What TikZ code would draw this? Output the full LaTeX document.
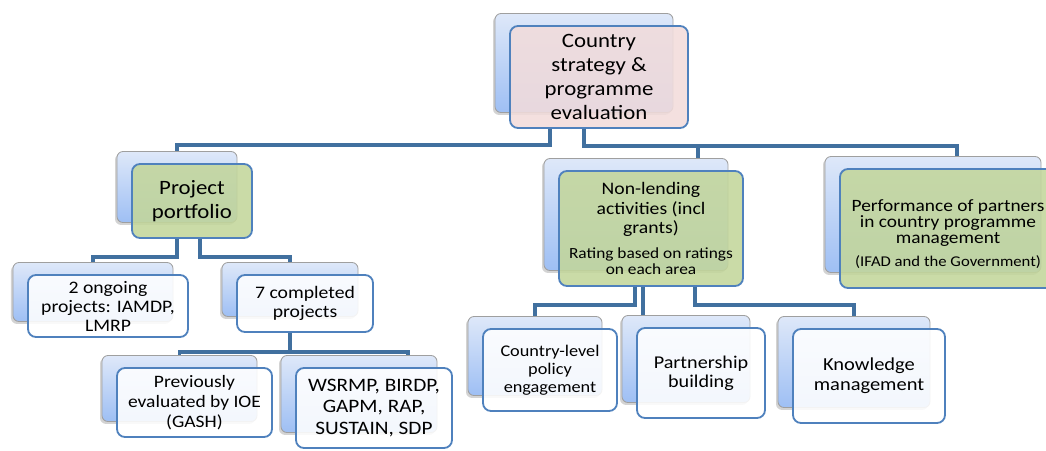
\documentclass[tikz,border=0pt]{standalone}
\usepackage{fontspec}
\setmainfont{Carlito}[FakeStretch=1.12]
\usetikzlibrary{calc,shadows}
\definecolor{backtop}{HTML}{DEE8F9}
\definecolor{backbot}{HTML}{9EBFF4}
\definecolor{frameblue}{HTML}{4F81BD}
\definecolor{linkblue}{HTML}{41709F}
\definecolor{pinkfill}{HTML}{F2DCDB}
\definecolor{greenfill}{HTML}{C3D69B}
\newcommand \myfs[2]{\fontsize{#1}{#2}\selectfont}
\newcommand \mybox[7]
{
\node[backbox, minimum width=#4*0.025cm, minimum height=(#5-3)*0.025cm] (#1B) at (#2-15,#3-14) {};
\node[frontbox, #6, minimum width=#4*0.025cm, minimum height=#5*0.025cm] (#1) at (#2,#3) {#7};
}

\begin{document}
\begin{tikzpicture}[x=0.025cm, y=-0.025cm,
  backbox/.style={draw=gray!75, line width=0.6pt, rounded corners=0.15cm, top color=backtop, bottom color=backbot,
    drop shadow={shadow xshift=-0.5mm, shadow yshift=-0.6mm, opacity=0.35}},
  frontbox/.style={draw=frameblue, line width=1.3pt, rounded corners=0.2cm, fill=white, fill opacity=0.88,
    text opacity=1, align=center, inner sep=0pt},
  conn/.style={draw=linkblue, line width=2.5pt}]
\clip (0,0) rectangle (1046,450);
% boxes: name, x, y, width, height, look, text
\mybox{cse}{599}{77}{178}{102}{fill=pinkfill, font=\myfs{14.5}{17}}{Country\\strategy \&\\programme\\evaluation}
\mybox{port}{192}{201}{120}{74}{fill=greenfill, font=\myfs{14.5}{17}}{Project\\portfolio}
\mybox{ongo}{108}{306}{160}{62}{font=\myfs{12.5}{13.5}}{2 ongoing\\projects: IAMDP,\\LMRP}
\mybox{compl}{305}{303.5}{136}{57}{font=\myfs{12.5}{13.5}}{7 completed\\projects}
\mybox{prev}{194.5}{402.5}{155}{69}{font=\myfs{12.4}{14.2}}{Previously\\evaluated by IOE\\(GASH)}
\mybox{wsr}{374}{408}{156}{80}{font=\myfs{13.5}{15}}{WSRMP, BIRDP,\\GAPM, RAP,\\SUSTAIN, SDP}
\mybox{nonl}{651}{228.5}{184}{115}{fill=greenfill, font=\myfs{12.5}{14}}{Non-lending\\activities (incl\\grants)\\[3.8pt]
  \myfs{11}{11.4}Rating based on ratings\\[-2.6pt]\myfs{11}{11.4}on each area}
\mybox{perf}{948}{228.5}{216}{119}{fill=greenfill, font=\myfs{12.3}{11.6}}{\rule{0pt}{16pt}Performance of partners\\in country programme\\management\\[4.5pt]
  \myfs{10.6}{11}(IFAD and the Government)}
\mybox{pol}{550}{370}{134}{82}{font=\myfs{11.6}{12.8}}{Country-level\\policy\\engagement}
\mybox{part}{701}{373}{128}{90}{font=\myfs{12.8}{13.5}}{Partnership\\building}
\mybox{know}{869}{376}{152}{94}{font=\myfs{13}{14.2}}{Knowledge\\management}
% connectors
\coordinate (j1) at (550,145);
\coordinate (j2) at (584,146);
\coordinate (j3) at (177,257);
\coordinate (j4) at (200,257);
\coordinate (j5) at (290,352);
\coordinate (j6) at (635,305);
\coordinate (j7) at (643,305);
\coordinate (j8) at (695,305);
\coordinate (d1) at (698,0);
\coordinate (d2) at (957,0);
\coordinate (d3) at (408,0);
\draw[conn] (cse.south -| j1) -- (j1) -| (portB);
\draw[conn] (cse.south -| j2) -- (j2) -| (perfB.north -| d2);
\draw[conn] (j2) -| (nonlB.north -| d1);
\draw[conn] (port.south -| j3) -- (j3) -| (ongoB);
\draw[conn] (port.south -| j4) -- (j4) -| (complB);
\draw[conn] (compl.south -| j5) -- (j5) -| (prevB);
\draw[conn] (j5) -| (wsrB.north -| d3);
\draw[conn] (nonl.south -| j6) -- (j6) -| (polB);
\draw[conn] (nonl.south -| j7) -- (partB.north -| j7);
\draw[conn] (nonl.south -| j8) -- (j8) -| (knowB);
\end{tikzpicture}
\end{document}
